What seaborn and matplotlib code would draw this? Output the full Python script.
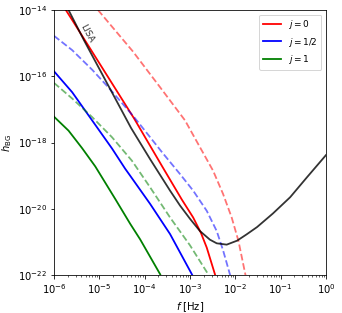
import matplotlib
matplotlib.use("Agg")
import matplotlib.pyplot as plt
import numpy as np
import seaborn as sns

# values, as log10(f) and log10(h_BG)
# j = 0
red_f = [-5.74, -5.60, -4.23, -3.60, -3.18, -2.93, -2.76, -2.63, -2.45, -2.42]
red_h = [-14.0, -14.30, -17.28, -18.75, -19.72, -20.26, -20.72, -21.17, -21.97, -22.1]
red_dash_f = [-5.03, -4.26, -3.66, -3.11, -2.78, -2.49, -2.27, -2.08, -1.93, -1.82, -1.76]
red_dash_h = [-14.0, -15.25, -16.33, -17.33, -18.14, -18.85, -19.55, -20.26, -20.97, -21.70, -22.1]

# j = 1/2
blue_f = [-6.0, -5.60, -5.16, -4.72, -4.43, -4.32, -3.88, -3.44, -2.96, -2.91]
blue_h = [-15.85, -16.48, -17.33, -18.18, -18.79, -19.0, -19.85, -20.76, -21.97, -22.1]
blue_dash_f = [-6.0, -5.60, -5.16, -4.79, -4.24, -3.60, -3.22, -2.93, -2.63, -2.41, -2.27, -2.12, -2.09]
blue_dash_h = [-14.78, -15.21, -15.80, -16.35, -17.22, -18.32, -18.95, -19.45, -20.06, -20.67, -21.25, -21.97, -22.1]

# j = 1
green_f = [-6.0, -5.68, -5.38, -5.09, -4.65, -4.32, -4.10, -3.66, -3.62]
green_h = [-17.22, -17.64, -18.17, -18.72, -19.70, -20.45, -20.92, -21.97, -22.1]
green_dash_f = [-6.0, -5.60, -5.16, -4.72, -4.28, -3.88, -3.44, -3.00, -2.60, -2.56]
green_dash_h = [-16.20, -16.67, -17.23, -17.84, -18.55, -19.35, -20.26, -21.10, -21.97, -22.1]

# LISA sensitivity
lisa_f = [-5.68, -5.34, -4.30, -3.88, -3.44, -3.22, -3.00, -2.78, -2.56, -2.41, -2.19,
          -1.96, -1.75, -1.52, -1.17, -0.79, -0.42, 0.0]
lisa_h = [-14.0, -14.91, -17.56, -18.50, -19.45, -19.90, -20.30, -20.67, -20.93, -21.04, -21.08,
          -20.96, -20.77, -20.55, -20.14, -19.65, -19.05, -18.38]

labels = [r"$j=0$", r"$j=1/2$", r"$j=1$"]


def pw(a):
    return 10.0 ** np.array(a)


fig = plt.figure(figsize=(342 / 72, 313 / 72), dpi=72)
ax = fig.add_axes([0.158, 0.121, 0.795, 0.847])

lw = 1.8
sns.lineplot(x=pw(red_f), y=pw(red_h), color="red", lw=lw, label=labels[0], ax=ax, sort=False)
sns.lineplot(x=pw(blue_f), y=pw(blue_h), color="blue", lw=lw, label=labels[1], ax=ax, sort=False)
sns.lineplot(x=pw(green_f), y=pw(green_h), color="green", lw=lw, label=labels[2], ax=ax, sort=False)

# dashed counterparts
sns.lineplot(x=pw(red_dash_f), y=pw(red_dash_h), color="red", lw=lw, alpha=0.55, ax=ax, sort=False, linestyle="--")
sns.lineplot(x=pw(blue_dash_f), y=pw(blue_dash_h), color="blue", lw=lw, alpha=0.55, ax=ax, sort=False, linestyle="--")
sns.lineplot(x=pw(green_dash_f), y=pw(green_dash_h), color="green", lw=lw, alpha=0.55, ax=ax, sort=False, linestyle="--")

sns.lineplot(x=pw(lisa_f), y=pw(lisa_h), color="black", lw=lw, alpha=0.8, ax=ax, sort=False)

ax.text(5.4e-6, 2.0e-15, "LISA", rotation=-62, fontsize=9, color="#333333", ha="center", va="center")

ax.set_xscale("log")
ax.set_yscale("log")
ax.set_xlim(1e-6, 1)
ax.set_ylim(1e-22, 1e-14)
ax.set_yticks([1e-22, 1e-20, 1e-18, 1e-16, 1e-14])
ax.yaxis.set_minor_locator(matplotlib.ticker.NullLocator())
ax.tick_params(labelsize=10)
ax.set_xlabel(r"$f$ [Hz]", fontsize=10)
ax.set_ylabel(r"$h_{\rm BG}$", fontsize=10)
ax.legend(loc="upper right", fontsize=9)

fig.savefig("out.png", dpi=72)
